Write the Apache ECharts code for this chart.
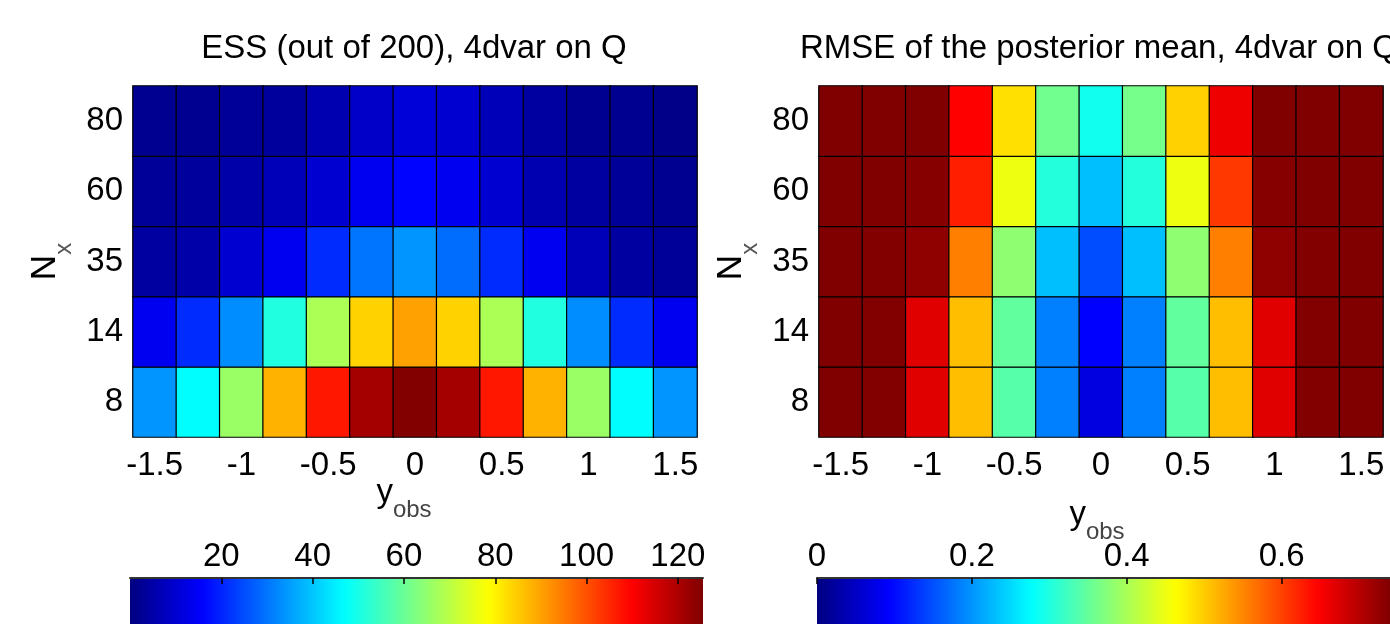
<!DOCTYPE html>
<html>
<head>
<meta charset="utf-8">
<script src="https://cdn.jsdelivr.net/npm/echarts@6/dist/echarts.min.js"></script>
<style>
    html, body { margin: 0; padding: 0; background: #fff; }
    #main { width: 1390px; height: 624px; }
</style>
</head>
<body>
<div id="main"></div>
<script>
// x axis: y_obs, y axis: N_x (bottom to top)
var yObs = [-1.5, -1.25, -1, -0.75, -0.5, -0.25, 0, 0.25, 0.5, 0.75, 1, 1.25, 1.5];
var nx = ['8', '14', '35', '60', '80'];

// ESS (out of 200), one row per N_x
var essN8  = [34, 47, 66, 88, 107, 121, 125.3, 121, 107, 88, 66, 47, 34];
var essN14 = [14, 21, 33, 51, 68, 84, 90, 84, 68, 51, 33, 21, 14];
var essN35 = [4, 5, 10, 14, 21, 30, 34, 29, 21, 14, 7, 4, 3];
var essN60 = [3, 3.5, 5, 7, 10, 14, 16, 14, 10, 6, 4, 3, 2];
var essN80 = [2, 2, 3, 3.5, 6, 9, 11, 10, 7, 4, 2, 2, 1];

// RMSE of the posterior mean, one row per N_x
var rmseN8  = [0.74, 0.738, 0.67, 0.509, 0.34, 0.185, 0.07, 0.185, 0.34, 0.509, 0.67, 0.738, 0.74];
var rmseN14 = [0.74, 0.738, 0.67, 0.509, 0.348, 0.185, 0.0925, 0.185, 0.348, 0.509, 0.67, 0.738, 0.74];
var rmseN35 = [0.74, 0.738, 0.729, 0.555, 0.381, 0.231, 0.148, 0.231, 0.381, 0.555, 0.729, 0.738, 0.74];
var rmseN60 = [0.74, 0.74, 0.735, 0.625, 0.451, 0.303, 0.231, 0.303, 0.451, 0.607, 0.735, 0.74, 0.74];
var rmseN80 = [0.74, 0.74, 0.74, 0.648, 0.485, 0.359, 0.289, 0.363, 0.496, 0.659, 0.74, 0.74, 0.74];

// colour bar limits
var essMax = 125.5;
var rmseMax = 0.74;

var jet = ['#000080', '#0000ff', '#0080ff', '#00ffff', '#80ff80', '#ffff00', '#ff8000', '#ff0000', '#800000'];
var font = '"Liberation Sans", Arial, Helvetica, sans-serif';

function toCells(rows) {
    var cells = [];
    for (var r = 0; r < rows.length; r++) {
        for (var c = 0; c < rows[r].length; c++) {
            cells.push([c, r, rows[r][c]]);
        }
    }
    return cells;
}

function heatX(idx, gap, padRight) {
    return {
        gridIndex: idx,
        type: 'category',
        data: yObs.map(String),
        axisLine: { show: false },
        axisTick: { show: false },
        splitLine: { show: false },
        axisLabel: { interval: 1, margin: 12, fontSize: 33, color: '#000', fontFamily: font },
        name: '{y|y}{s|obs}',
        nameLocation: 'middle',
        nameGap: gap,
        nameMoveOverlap: false,
        nameTextStyle: {
            rich: {
                y: { fontSize: 33, lineHeight: 36, verticalAlign: 'top', color: '#000', fontFamily: font },
                s: { fontSize: 24, lineHeight: 24, verticalAlign: 'top', padding: [22, padRight, 0, 0], color: '#444', fontFamily: font }
            }
        }
    };
}

function heatY(idx) {
    return {
        gridIndex: idx,
        type: 'category',
        data: nx,
        axisLine: { show: false },
        axisTick: { show: false },
        splitLine: { show: false },
        axisLabel: { margin: 10, fontSize: 33, color: '#000', fontFamily: font },
        name: '{n|N}{s|x}',
        nameLocation: 'middle',
        nameRotate: 90,
        nameGap: 69,
        nameTextStyle: {
            rich: {
                n: { fontSize: 35, lineHeight: 36, verticalAlign: 'top', color: '#000', fontFamily: font },
                s: { fontSize: 24, lineHeight: 24, verticalAlign: 'top', padding: [24, 0, 0, 0], color: '#555', fontFamily: font }
            }
        }
    };
}

function barX(idx, max, interval, showMin) {
    return {
        gridIndex: idx,
        type: 'value',
        position: 'top',
        min: 0,
        max: max,
        interval: interval,
        z: 10,
        axisLine: { show: true, onZero: false, lineStyle: { color: '#333', width: 2 } },
        axisTick: { show: true, inside: true, length: 6, lineStyle: { color: '#000', width: 1.5 } },
        splitLine: { show: false },
        axisLabel: { margin: 5, fontSize: 33, color: '#000', fontFamily: font, showMinLabel: showMin, showMaxLabel: false }
    };
}

function colorBar(seriesIdx, max, left) {
    return {
        type: 'continuous',
        seriesIndex: seriesIdx,
        dimension: 2,
        min: 0,
        max: max,
        orient: 'horizontal',
        left: left,
        top: 577,
        padding: 0,
        z: 1,
        itemWidth: 60,
        itemHeight: 573,
        calculable: false,
        hoverLink: false,
        inRange: { color: jet }
    };
}

let chart = echarts.init(document.getElementById('main'));
option = {
    backgroundColor: '#fff',
    animation: false,
    textStyle: { fontFamily: font },
    title: [{
        text: 'ESS (out of 200), 4dvar on Q',
        left: 414,
        top: 32,
        textAlign: 'center',
        padding: 0,
        textStyle: { fontSize: 33, fontWeight: 'normal', color: '#000', fontFamily: font }
    }, {
        text: 'RMSE of the posterior mean, 4dvar on Q',
        left: 1099,
        top: 32,
        textAlign: 'center',
        padding: 0,
        textStyle: { fontSize: 33, fontWeight: 'normal', color: '#000', fontFamily: font }
    }],
    grid: [
        { left: 133, top: 86, width: 564, height: 351 },
        { left: 819, top: 86, width: 564, height: 351 },
        { left: 130, top: 578, width: 573, height: 60 },
        { left: 817, top: 578, width: 573, height: 60 }
    ],
    xAxis: [
        heatX(0, 39, 22),
        heatX(1, 61, 8),
        barX(2, essMax, 20, false),
        barX(3, rmseMax, 0.2, true)
    ],
    yAxis: [
        heatY(0),
        heatY(1),
        { gridIndex: 2, type: 'value', show: false },
        { gridIndex: 3, type: 'value', show: false }
    ],
    visualMap: [
        colorBar(0, essMax, 130),
        colorBar(1, rmseMax, 817)
    ],
    series: [{
        name: 'ESS',
        type: 'heatmap',
        xAxisIndex: 0,
        yAxisIndex: 0,
        data: toCells([essN8, essN14, essN35, essN60, essN80]),
        itemStyle: { borderColor: '#000', borderWidth: 1.2 },
        emphasis: { disabled: true }
    }, {
        name: 'RMSE',
        type: 'heatmap',
        xAxisIndex: 1,
        yAxisIndex: 1,
        data: toCells([rmseN8, rmseN14, rmseN35, rmseN60, rmseN80]),
        itemStyle: { borderColor: '#000', borderWidth: 1.2 },
        emphasis: { disabled: true }
    }]
};
chart.setOption(option);
</script>
</body>
</html>
